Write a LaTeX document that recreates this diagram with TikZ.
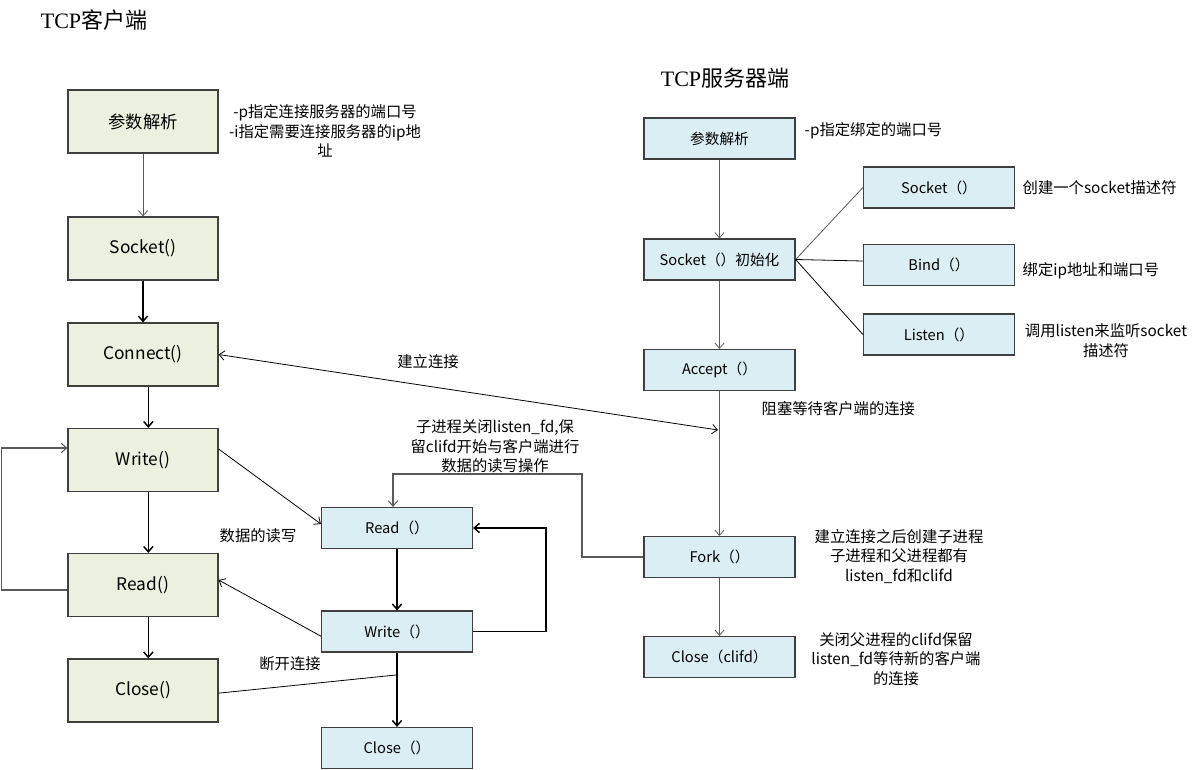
\documentclass[tikz,border=0pt]{standalone}
\usepackage{fontspec}
\setmainfont{Noto Sans CJK SC}
\newfontfamily\titlefont{Liberation Serif}
\usetikzlibrary{arrows.meta}

\definecolor{clientfill}{HTML}{EBF1DE}
\definecolor{serverfill}{HTML}{DBEEF3}
\definecolor{boxline}{HTML}{3F3F3F}
\definecolor{thinline}{HTML}{595959}

\begin{document}
\begin{tikzpicture}[x=0.75pt,y=-0.75pt,
  >={Straight Barb[length=4pt,width=7pt]},
  cbox/.style={draw=boxline,line width=0.9pt,fill=clientfill,minimum width=112.5pt,minimum height=47.25pt,font=\fontsize{13}{15}\selectfont},
  sbox/.style={draw=boxline,line width=0.9pt,fill=serverfill,minimum width=113.25pt,minimum height=30.75pt,font=\fontsize{11}{13}\selectfont},
  note/.style={align=center,font=\fontsize{11.5}{14.6}\selectfont},
  thin arrow/.style={->,thinline,line width=0.6pt},
  thick arrow/.style={->,black,line width=1.1pt}]
\useasboundingbox (0,0) rectangle (1204,770);

% Titel
\node (tClient) at (94,20) {\fontsize{16.5}{19}\selectfont{\titlefont TCP}客户端};
\node (tServer) at (725,78) {\fontsize{16.5}{19}\selectfont{\titlefont TCP}服务器端};

% Client
\node[cbox] (cParse) at (143,121.5) {参数解析};
\node[cbox] (cSocket) at (143,248.5) {Socket()};
\node[cbox] (cConnect) at (143,354.5) {Connect()};
\node[cbox] (cWrite) at (143,460) {Write()};
\node[cbox] (cRead) at (143,585) {Read()};
\node[cbox] (cClose) at (143,690.5) {Close()};

% Server
\node[sbox] (sParse) at (719.5,138.5) {参数解析};
\node[sbox] (sInit) at (719.5,259.5) {Socket（）初始化};
\node[sbox] (sAccept) at (719.5,370) {Accept（）};
\node[sbox] (sFork) at (719.5,557) {Fork（）};
\node[sbox] (sClose) at (719.5,657) {Close（clifd）};
\node[sbox] (sSocket) at (939,187.5) {Socket（）};
\node[sbox] (sBind) at (939,265) {Bind（）};
\node[sbox] (sListen) at (939,334.5) {Listen（）};

% Kindprozess
\node[sbox] (kRead) at (397,528) {Read（）};
\node[sbox] (kWrite) at (397,631.5) {Write（）};
\node[sbox] (kClose) at (397,748) {Close（）};

% Texte
\node[note] (nClient) at (325,131) {-p指定连接服务器的端口号\\-i指定需要连接服务器的ip地\\址};
\node[note,anchor=west] (nParse) at (800,131) {-p指定绑定的端口号};
\node[note,anchor=west] (nSocket) at (1018,188) {创建一个socket描述符};
\node[note,anchor=west] (nBind) at (1018,271) {绑定ip地址和端口号};
\node[note] (nListen) at (1106,340.5) {调用listen来监听socket\\描述符};
\node[note,anchor=west] (nAccept) at (757,409) {阻塞等待客户端的连接};
\node[note] (nFork) at (899,556.5) {建立连接之后创建子进程\\子进程和父进程都有\\listen\_fd和clifd};
\node[note] (nClose) at (896,659) {关闭父进程的clifd保留\\listen\_fd等待新的客户端\\的连接};
\node[note] (nConn) at (428,362) {建立连接};
\node[note] (nChild) at (495,446.5) {子进程关闭listen\_fd,保\\留clifd开始与客户端进行\\数据的读写操作};
\node[note] (nData) at (258,536) {数据的读写};
\node[note] (nDisc) at (290,664) {断开连接};

\coordinate (conn) at (718,430);
\coordinate (disc) at (396,675);

% Client Pfeile
\draw[thin arrow] (cParse) -- (cSocket);
\draw[thick arrow] (cSocket) -- (cConnect);
\draw[thick arrow] ([xshift=4pt]cConnect.south) -- ([xshift=4pt]cWrite.north);
\draw[thick arrow] ([xshift=4pt]cWrite.south) -- ([xshift=4pt]cRead.north);
\draw[thick arrow] ([xshift=4pt]cRead.south) -- ([xshift=4pt]cClose.north);
\draw[->,thinline,line width=0.8pt] ([yshift=-3.75pt]cRead.west) -- ++(-66,0) |- ([yshift=9pt]cWrite.west);

% Server Pfeile
\draw[thin arrow] (sParse) -- (sInit);
\draw[thin arrow] (sInit) -- (sAccept);
\draw[thin arrow] (sAccept) -- (sFork);
\draw[thin arrow] (sFork) -- (sClose);
\draw[thinline,line width=0.6pt] (sInit.east) -- (sSocket.west);
\draw[black,line width=0.6pt] (sInit.east) -- ([yshift=3pt]sBind.west);
\draw[black,line width=0.6pt] (sInit.east) -- (sListen.west);

% Verbindung
\draw[<->,black,line width=0.6pt] (cConnect.east) -- (conn);
\draw[->,black,line width=0.6pt] ([yshift=8.25pt]cWrite.east) -- ([yshift=3pt]kRead.west);
\draw[->,black,line width=0.6pt] ([yshift=-3.5pt]kWrite.west) -- ([yshift=3.75pt]cRead.east);
\draw[->,thinline,line width=0.8pt] (sFork.west) -| (582,474) -| ([xshift=-3pt]kRead.north);
\draw[thick arrow] (kRead) -- (kWrite);
\draw[thick arrow] (kWrite.east) -- ++(73,0) |- (kRead.east);
\draw[thick arrow] (kWrite) -- (kClose);
\draw[black,line width=0.6pt] ([yshift=-2pt]cClose.east) -- (disc);
\end{tikzpicture}
\end{document}
